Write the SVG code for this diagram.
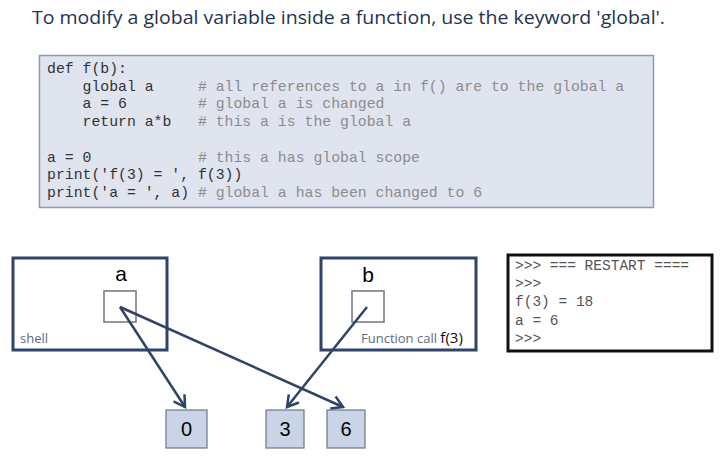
<svg xmlns="http://www.w3.org/2000/svg" width="724" height="463" viewBox="0 0 724 463">
<defs>
<style>
.title{font-family:"Open Sans","Liberation Sans",sans-serif;font-size:19px;fill:#233453}
.code{font-family:"Liberation Mono","Courier New",monospace;font-size:14.8px;fill:#333;white-space:pre}
.cmt{fill:#8c8c8c}
.frame{fill:#ffffff;stroke:#2f4468;stroke-width:3}
.slot{fill:#ffffff;stroke:#737373;stroke-width:1.5}
.var{font-family:"Liberation Sans",Arial,sans-serif;font-size:21px;fill:#000}
.lbl{font-family:"Open Sans","Liberation Sans",sans-serif;font-size:13px;fill:#5b6b82}
.val{fill:#c9d4e8;stroke:#6f7682;stroke-width:1.2}
.valt{font-family:"Liberation Sans",Arial,sans-serif;font-size:20px;fill:#000;text-anchor:middle}
.term{font-family:"Liberation Mono","Courier New",monospace;font-size:14.5px;fill:#555;white-space:pre}
.conn{stroke:#2f4468;stroke-width:2.5;fill:none;marker-end:url(#arr)}
</style>
<marker id="arr" markerWidth="16" markerHeight="16" refX="12" refY="8" orient="auto" markerUnits="userSpaceOnUse">
<polyline points="1,1.5 12,8 1,14.5" fill="none" stroke="#2f4468" stroke-width="2.5"/>
</marker>
</defs>
<rect width="724" height="463" fill="#ffffff"/>
<text class="title" x="32" y="24" textLength="633" lengthAdjust="spacingAndGlyphs">To modify a global variable inside a function, use the keyword 'global'.</text>

<g id="code">
<rect x="39.5" y="55.5" width="614" height="152" fill="#dfe4ef" stroke="#8e9aae" stroke-width="1.5"/>
<text class="code" x="47" y="73">def f(b):</text>
<text class="code" x="47" y="90.6">    global a     <tspan class="cmt"># all references to a in f() are to the global a</tspan></text>
<text class="code" x="47" y="108.2">    a = 6        <tspan class="cmt"># global a is changed</tspan></text>
<text class="code" x="47" y="125.8">    return a*b   <tspan class="cmt"># this a is the global a</tspan></text>
<text class="code" x="47" y="161.5">a = 0            <tspan class="cmt"># this a has global scope</tspan></text>
<text class="code" x="47" y="179">print('f(3) = ', f(3))</text>
<text class="code" x="47" y="196.6">print('a = ', a) <tspan class="cmt"># global a has been changed to 6</tspan></text>
</g>

<g id="shell">
<rect class="frame" x="13" y="258" width="154" height="92"/>
<text class="var" x="121" y="281" text-anchor="middle">a</text>
<rect class="slot" x="104" y="291" width="32" height="31"/>
<text class="lbl" x="20" y="343">shell</text>
</g>

<g id="funccall">
<rect class="frame" x="321" y="258" width="155" height="92"/>
<text class="var" x="368" y="282" text-anchor="middle">b</text>
<rect class="slot" x="352" y="291" width="32" height="31"/>
<text class="lbl" x="361" y="343">Function call <tspan style="fill:#111;font-size:15px">f(3)</tspan></text>
</g>

<g id="terminal">
<rect x="508" y="255" width="204" height="96" fill="#ffffff" stroke="#111" stroke-width="3"/>
<text class="term" x="515" y="270">&gt;&gt;&gt; === RESTART ====</text>
<text class="term" x="515" y="288">&gt;&gt;&gt;</text>
<text class="term" x="515" y="306">f(3) = 18</text>
<text class="term" x="515" y="325">a = 6</text>
<text class="term" x="515" y="343">&gt;&gt;&gt;</text>
</g>

<g id="val0">
<rect class="val" x="166" y="410" width="41" height="38"/>
<text class="valt" x="186.5" y="436">0</text>
</g>
<g id="val3">
<rect class="val" x="266" y="410" width="38" height="38"/>
<text class="valt" x="285" y="436">3</text>
</g>
<g id="val6">
<rect class="val" x="327" y="410" width="38" height="38"/>
<text class="valt" x="346" y="436">6</text>
</g>

<g id="connectors">
<line class="conn" x1="120" y1="307" x2="185" y2="407"/>
<line class="conn" x1="120" y1="307" x2="343" y2="407"/>
<line class="conn" x1="367" y1="307" x2="287" y2="407"/>
</g>
</svg>
